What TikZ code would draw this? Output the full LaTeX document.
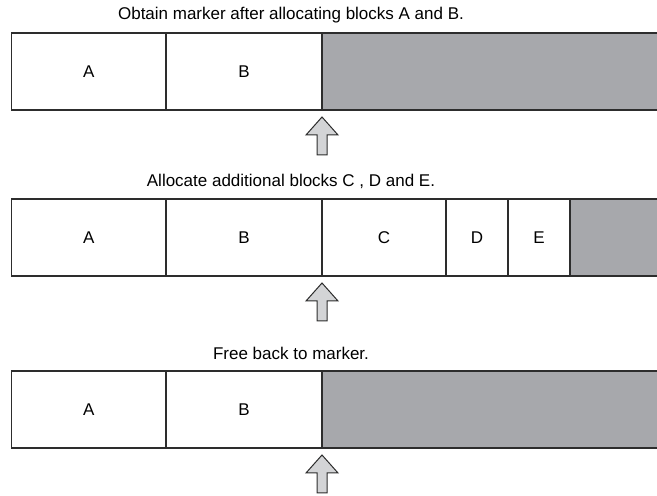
\documentclass[tikz,border=0pt]{standalone}
\usepackage{fontspec}
\setmainfont{Liberation Sans}
\usetikzlibrary{positioning, calc}
\definecolor{cLine}{RGB}{45,45,45}
\definecolor{cFree}{RGB}{167,168,172}
\definecolor{cArrow}{RGB}{211,212,214}
\tikzset{
	blk/.style    ={rectangle, draw=cLine, line width=1.2pt, fill=white, minimum height=77pt, inner sep=0pt, outer sep=0pt},
	freeblk/.style={blk, fill=cFree},
	caption/.style={inner sep=0pt},
	markarrow/.style={draw=cLine, line width=1pt, fill=cArrow, line join=miter},
}
\begin{document}
\begin{tikzpicture}[x=1pt, y=1pt, font=\fontsize{17}{20}\selectfont]
	\useasboundingbox (0,0) rectangle (657,496);
	% marker taken after A and B
	\node[blk, minimum width=154.5pt] (a1) at (88.75,424.5) {A};
	\node[blk, minimum width=156pt, right=0pt of a1] (b1) {B};
	\node[freeblk, minimum width=340pt, right=0pt of b1] (f1) {};
	\node[caption] (t1) at ($(b1.north east)+(-31,18)$) {Obtain marker after allocating blocks A and B.};
	% further blocks C, D, E
	\node[blk, minimum width=154.5pt] (a2) at (88.75,258.5) {A};
	\node[blk, minimum width=156pt, right=0pt of a2] (b2) {B};
	\node[blk, minimum width=124pt, right=0pt of b2] (c2) {C};
	\node[blk, minimum width=62pt, right=0pt of c2] (d2) {D};
	\node[blk, minimum width=62pt, right=0pt of d2] (e2) {E};
	\node[freeblk, minimum width=100pt, right=0pt of e2] (f2) {};
	\node[caption] (t2) at ($(b2.north east)+(-31,18)$) {Allocate additional blocks C , D and E.};
	% back to the marker
	\node[blk, minimum width=154.5pt] (a3) at (88.75,86.5) {A};
	\node[blk, minimum width=156pt, right=0pt of a3] (b3) {B};
	\node[freeblk, minimum width=340pt, right=0pt of b3] (f3) {};
	\node[caption] (t3) at ($(b3.north east)+(-31,18)$) {Free back to marker.};
	% marker arrows
	\foreach \b in {b1,b2,b3}
		\draw[markarrow] ($(\b.south east)+(0,-7)$) -- ++(16,-18) -- ++(-11,0) -- ++(0,-20)
			-- ++(-10,0) -- ++(0,20) -- ++(-11,0) -- cycle;
\end{tikzpicture}
\end{document}
